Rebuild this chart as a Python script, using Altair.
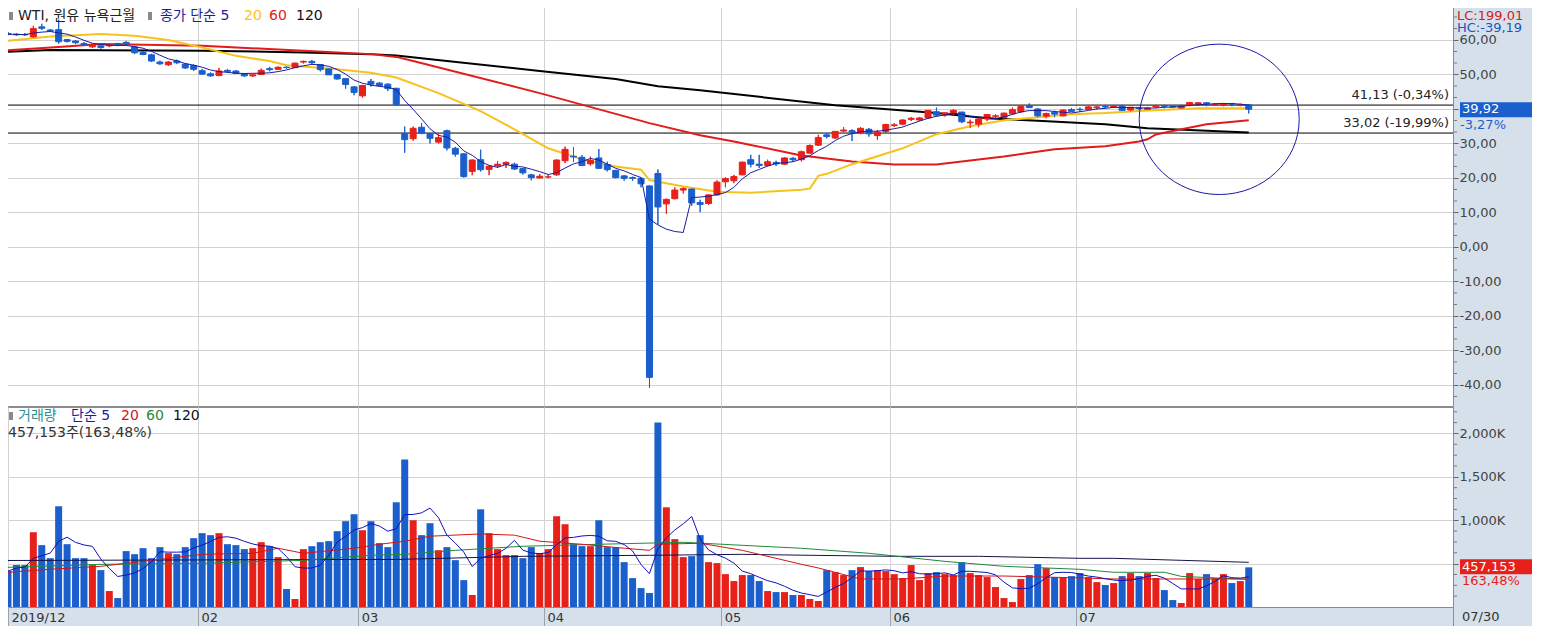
import altair as alt
import pandas as pd

# ---------------- data ----------------
opens = [61.9, 61.7, 61.6, 60.9, 63.8, 62.9, 63.0, 60.1, 59.7, 59.0,
         58.0, 58.3, 58.3, 59.0, 59.3, 58.0, 56.4, 55.7, 53.6, 52.8,
         53.9, 53.0, 52.6, 51.1, 50.2, 49.7, 51.2, 51.0, 50.2, 49.6,
         50.0, 51.7, 51.5, 52.1, 52.0, 53.6, 53.8, 52.9, 51.6, 50.0,
         48.8, 46.4, 43.8, 48.0, 47.5, 47.2, 46.0, 32.9, 31.4, 34.7,
         32.9, 30.4, 33.7, 28.6, 27.0, 21.9, 25.3, 22.5, 23.5, 24.0,
         24.0, 22.7, 20.9, 20.0, 20.3, 20.9, 25.0, 26.3, 26.0, 24.1,
         25.8, 23.9, 22.2, 20.6, 20.1, 19.9, 17.7, 21.3, 12.5, 14.0,
         16.5, 16.8, 12.9, 12.6, 15.1, 18.9, 19.2, 20.9, 25.3, 24.0,
         23.6, 24.5, 24.0, 25.7, 25.3, 27.2, 29.5, 32.5, 31.6, 33.6,
         33.7, 33.0, 34.1, 32.3, 33.5, 35.2, 35.6, 37.0, 36.8, 37.4,
         39.2, 38.2, 38.6, 39.1, 36.0, 35.6, 37.1, 37.9, 37.5, 38.6,
         39.2, 40.9, 40.0, 37.9, 39.0, 38.0, 39.8, 39.9, 39.9, 40.4,
         40.7, 40.5, 40.8, 39.7, 40.3, 39.9, 40.6, 41.0, 40.8, 40.3,
         41.1, 41.3, 41.8, 41.2, 41.1, 41.6, 41.0, 41.2]
highs = [62.3, 62.0, 62.0, 64.1, 64.7, 63.2, 65.9, 60.3, 60.0, 59.4,
         58.8, 58.5, 58.8, 59.1, 59.7, 58.3, 56.7, 56.0, 54.0, 53.9,
         54.3, 53.3, 52.9, 51.6, 50.6, 51.9, 51.6, 51.3, 50.4, 50.1,
         51.7, 52.2, 52.3, 52.3, 53.4, 54.0, 54.2, 53.0, 51.8, 50.2,
         48.9, 46.6, 47.0, 48.7, 47.8, 47.4, 46.1, 34.9, 34.9, 35.9,
         33.0, 32.7, 34.0, 29.0, 27.2, 25.4, 28.2, 23.6, 24.9, 24.8,
         24.4, 22.9, 21.2, 21.1, 21.0, 25.4, 29.1, 28.9, 26.6, 26.2,
         28.4, 24.7, 22.3, 20.8, 20.4, 20.1, 17.8, 22.5, 14.0, 17.3,
         17.3, 16.9, 13.7, 15.2, 19.3, 20.2, 20.9, 24.7, 26.7, 26.7,
         25.3, 25.0, 26.0, 26.0, 27.9, 29.7, 32.5, 33.0, 33.6, 34.7,
         34.1, 34.7, 34.5, 33.9, 35.7, 35.9, 37.0, 37.6, 37.6, 39.6,
         40.4, 38.9, 39.9, 39.2, 36.9, 37.3, 38.5, 38.5, 38.9, 40.4,
         40.9, 41.6, 40.2, 38.9, 39.5, 39.8, 40.3, 40.4, 40.8, 40.8,
         41.0, 41.1, 41.2, 40.6, 40.6, 40.6, 41.2, 41.2, 41.0, 41.2,
         42.0, 41.9, 42.0, 41.6, 41.7, 41.7, 41.5, 41.3]
lows = [61.4, 61.2, 61.2, 60.7, 62.9, 62.4, 58.9, 59.3, 58.8, 58.3,
        57.7, 57.5, 57.9, 58.2, 58.3, 55.9, 55.6, 53.6, 52.8, 52.5,
        53.0, 51.6, 51.0, 49.9, 49.3, 49.5, 50.4, 50.2, 49.3, 49.3,
        49.9, 50.9, 51.3, 51.7, 51.9, 53.2, 52.9, 50.9, 49.9, 48.5,
        45.9, 44.0, 43.3, 46.5, 46.6, 45.2, 41.1, 27.3, 30.8, 32.7,
        30.0, 30.0, 28.0, 26.2, 20.1, 20.8, 21.9, 20.8, 22.9, 22.9,
        22.3, 21.0, 19.3, 19.9, 19.9, 20.6, 24.3, 24.7, 23.5, 23.6,
        22.6, 21.9, 19.9, 19.2, 19.2, 17.3, -40.8, 6.5, 9.6, 13.8,
        15.5, 11.9, 10.1, 12.2, 14.9, 17.3, 18.5, 20.8, 23.1, 22.9,
        23.4, 23.5, 23.8, 24.7, 24.8, 27.0, 29.3, 31.5, 31.3, 33.3,
        30.7, 32.7, 32.0, 31.1, 33.2, 34.8, 35.3, 36.5, 36.5, 37.2,
        37.8, 37.8, 38.3, 35.9, 34.5, 34.7, 36.5, 37.3, 37.0, 38.4,
        38.8, 40.4, 37.6, 37.3, 37.6, 37.9, 39.2, 39.2, 39.8, 39.9,
        40.2, 40.3, 39.6, 39.3, 39.8, 39.7, 40.4, 40.2, 40.4, 40.1,
        40.8, 41.0, 40.8, 40.9, 40.8, 40.8, 40.8, 38.7]
closes = [61.7, 61.5, 61.5, 63.3, 63.4, 62.6, 59.5, 59.6, 59.2, 58.6,
          58.4, 57.8, 58.5, 58.7, 58.8, 56.3, 55.8, 53.9, 53.1, 53.6,
          53.4, 51.9, 51.5, 50.1, 49.6, 51.0, 50.9, 50.3, 49.6, 49.9,
          51.2, 51.4, 52.1, 52.0, 53.3, 53.8, 53.4, 51.4, 49.9, 48.7,
          47.1, 44.8, 46.8, 47.2, 46.8, 45.9, 41.3, 31.1, 34.4, 33.0,
          31.5, 31.7, 28.7, 26.9, 20.4, 25.2, 22.4, 23.4, 24.0, 24.5,
          22.6, 21.5, 20.1, 20.5, 20.3, 25.2, 28.3, 26.1, 23.6, 25.1,
          22.8, 22.4, 20.1, 19.9, 19.9, 18.3, -37.8, 11.6, 13.8, 16.5,
          16.9, 12.8, 12.3, 15.1, 18.8, 19.8, 20.4, 24.6, 24.0, 23.6,
          24.7, 24.1, 25.8, 25.3, 27.6, 29.4, 31.7, 32.0, 33.5, 33.9,
          33.3, 34.4, 32.8, 33.3, 35.5, 35.4, 36.8, 37.3, 37.4, 39.6,
          38.2, 38.9, 39.6, 36.3, 36.2, 37.1, 38.4, 38.0, 38.8, 39.8,
          40.7, 40.4, 38.0, 38.7, 38.5, 39.7, 39.3, 39.8, 40.6, 40.6,
          40.6, 40.8, 39.6, 40.5, 40.1, 40.3, 40.9, 40.8, 40.6, 41.0,
          41.9, 41.8, 41.5, 41.4, 41.5, 41.4, 41.3, 39.92]
volumes = [414, 483, 483, 862, 713, 563, 1161, 724, 563, 563,
           483, 425, 184, 103, 644, 609, 678, 563, 690, 621,
           609, 690, 793, 851, 828, 851, 724, 713, 667, 678,
           747, 701, 575, 207, 92, 667, 701, 747, 759, 874,
           989, 1069, 885, 989, 736, 690, 1207, 1701, 1000, 828,
           966, 655, 690, 540, 310, 138, 1126, 851, 667, 598,
           598, 563, 690, 621, 667, 1046, 954, 724, 701, 701,
           1000, 690, 690, 517, 333, 218, 161, 2126, 1149, 782,
           575, 586, 828, 517, 506, 379, 299, 368, 368, 299,
           184, 172, 172, 138, 138, 92, 69, 425, 402, 368,
           425, 460, 414, 425, 414, 379, 333, 483, 310, 391,
           402, 379, 368, 517, 391, 368, 345, 230, 103, 57,
           322, 368, 494, 448, 345, 345, 356, 391, 345, 287,
           253, 276, 356, 391, 356, 391, 333, 195, 80, 46,
           391, 322, 379, 333, 379, 276, 299, 457]

# moving averages (bar index, value)
ma20_i = [0, 5, 11, 15, 19, 23, 27, 31, 33, 39, 43, 46, 51, 56, 60, 64, 68, 72, 75, 76,
          80, 84, 88, 94, 95, 96, 97, 100, 106, 110, 114, 118, 126, 130, 134, 141, 147]
ma20_v = [59.8, 61.0, 61.7, 61.2, 60.0, 57.8, 55.4, 53.9, 52.7, 51.5, 50.5, 49.1, 44.6, 39.4,
          34.1, 28.6, 25.4, 23.3, 22.4, 19.4, 17.5, 16.0, 15.7, 16.6, 16.9, 20.6, 21.2, 24.0,
          28.6, 32.7, 35.0, 36.7, 38.5, 38.8, 39.4, 40.2, 40.2]
ma60_i = [0, 6, 11, 23, 35, 43, 46, 48, 63, 76, 82, 86, 94, 100, 105, 110, 118, 124, 130,
          134, 135, 136, 138, 142, 147]
ma60_v = [57.0, 58.0, 58.8, 58.3, 56.9, 55.9, 55.1, 53.9, 44.6, 35.9, 32.4, 30.6, 26.5, 24.8,
          23.9, 23.9, 26.2, 28.3, 29.2, 30.6, 31.2, 32.6, 33.6, 35.6, 36.7]
ma120_i = [0, 5, 23, 35, 43, 46, 52, 63, 72, 77, 82, 98, 110, 116, 122, 130, 135, 147]
ma120_v = [56.6, 57.1, 56.9, 56.4, 55.9, 55.5, 53.9, 51.0, 48.7, 46.6, 45.4, 41.1, 38.8, 37.3,
           36.6, 35.6, 34.4, 33.2]

vma20_i = [0, 5, 11, 17, 23, 29, 32, 35, 41, 44, 47, 50, 56, 60, 63, 68, 73, 76, 77, 82, 87,
           89, 94, 96, 101, 106, 111, 118, 127, 131, 147]
vma20_v = [400, 435, 469, 538, 607, 619, 677, 619, 677, 723, 758, 816, 842, 828, 758, 723, 677,
           653, 723, 735, 653, 607, 492, 450, 323, 323, 357, 357, 335, 323, 323]
vma60_i = [0, 11, 23, 35, 43, 47, 53, 61, 70, 80, 87, 94, 102, 111, 118, 127, 131, 137, 139, 147]
vma60_v = [457, 492, 503, 538, 596, 607, 653, 700, 723, 746, 711, 677, 619, 526, 469, 434, 400,
           400, 353, 318]
vma120_i = [0, 41, 46, 61, 76, 87, 95, 105, 115, 127, 131, 139, 147]
vma120_v = [536, 548, 548, 584, 596, 607, 596, 584, 584, 561, 561, 538, 515]

levels = [41.13, 33.02]
level_labels = ["41,13 (-0,34%)", "33,02 (-19,99%)"]
month_pos = [0, 22.5, 41.5, 63.5, 84.5, 104.5, 126.5]
month_labels = ["2019/12", "02", "03", "04", "05", "06", "07"]
price_ticks = [-40, -30, -20, -10, 0, 10, 20, 30, 40, 50, 60]
price_minor = [-43.33, -36.67, -33.33, -26.67, -23.33, -16.67, -13.33, -6.67, -3.33, 3.33,
               6.67, 13.33, 16.67, 23.33, 26.67, 33.33, 36.67, 43.33, 46.67, 53.33, 56.67,
               63.33, 66.67]
vol_ticks = [500, 1000, 1500, 2000]
vol_minor = [125, 250, 375, 625, 750, 875, 1125, 1250, 1375, 1625, 1750, 1875, 2125, 2250]

RED = "#e8201a"
BLUE = "#1a5fcc"
GOLD = "#f7c21a"
NAVY = "#1c1c9c"
STRIP = "#d6e0ea"
FONT = "DejaVu Sans, Noto Sans CJK KR"

df = pd.DataFrame({"i": list(range(len(closes))), "open": opens, "high": highs,
                   "low": lows, "close": closes, "vol": volumes})

xs = alt.Scale(domain=[-0.83, 171.2], nice=False, zero=False, padding=0)
ys = alt.Scale(domain=[-46.1, 71.3], nice=False, zero=False, padding=0)
vs = alt.Scale(domain=[0, 2305], nice=False, zero=False, padding=0)

color_cond = alt.condition("datum.close >= datum.open", alt.value(RED), alt.value(BLUE))

x_top_axis = alt.Axis(values=month_pos[1:], grid=True, labels=False, ticks=False, domain=False,
                      title=None, gridColor="#d2d2d2")
price_label = "(datum.value < 0 ? '-' : '') + replace(format(abs(datum.value), '.2f'), '.', ',')"
y_top_axis = alt.Axis(orient="right", values=price_ticks, grid=True, gridColor="#d2d2d2",
                      labelExpr=price_label, title=None, domain=False, tickSize=5,
                      tickColor="#666", labelPadding=1, labelFont=FONT, labelFontSize=13,
                      labelColor="#444")

base = alt.Chart(df)

wick = base.mark_rule(strokeWidth=1).encode(
    x=alt.X("i:Q", scale=xs, axis=x_top_axis),
    y=alt.Y("low:Q", scale=ys, axis=y_top_axis),
    y2="high:Q",
    color=color_cond,
)
body = base.mark_bar(size=6, strokeWidth=1).encode(
    x=alt.X("i:Q", scale=xs),
    y=alt.Y("open:Q", scale=ys),
    y2="close:Q",
    color=color_cond,
    stroke=color_cond,
)
ma5 = base.transform_window(
    ma="mean(close)", frame=[-4, 0], sort=[alt.SortField("i")]
).mark_line(color=NAVY, strokeWidth=1).encode(
    x=alt.X("i:Q", scale=xs), y=alt.Y("ma:Q", scale=ys))


def ma_line(idx, vals, color, width, scale):
    d = pd.DataFrame({"i": idx, "v": vals})
    return alt.Chart(d).mark_line(color=color, strokeWidth=width).encode(
        x=alt.X("i:Q", scale=xs), y=alt.Y("v:Q", scale=scale))


def minor_ticks(vals, scale):
    d = pd.DataFrame({"v": vals})
    return alt.Chart(d).mark_rule(color="#777", strokeWidth=1).encode(
        x=alt.value(1453), x2=alt.value(1456), y=alt.Y("v:Q", scale=scale))


ma120 = ma_line(ma120_i, ma120_v, "black", 2, ys)
ma60 = ma_line(ma60_i, ma60_v, "#e31b1b", 2, ys)
ma20 = ma_line(ma20_i, ma20_v, GOLD, 2, ys)

lv = pd.DataFrame({"y": levels, "t": level_labels})
level_rule = alt.Chart(lv).mark_rule(color="black", strokeWidth=1).encode(
    y=alt.Y("y:Q", scale=ys))
level_text = alt.Chart(lv).mark_text(align="right", baseline="bottom", dy=-3, font=FONT,
                                     fontSize=13, color="#222").encode(
    x=alt.value(1448), y=alt.Y("y:Q", scale=ys), text="t:N")

ellipse = alt.Chart(pd.DataFrame({"i": [143.5], "v": [37.0]})).mark_point(
    shape="M -1 0 A 1 0.94 0 1 0 1 0 A 1 0.94 0 1 0 -1 0 Z", size=25600,
    filled=False, stroke="#1a1aa8", strokeWidth=1, opacity=1).encode(
    x=alt.X("i:Q", scale=xs), y=alt.Y("v:Q", scale=ys))

last = pd.DataFrame({"v": [closes[-1]], "t": ["39,92"], "p": ["-3,27%"]})
tag_box = alt.Chart(last).mark_rect(color=BLUE, yOffset=-7, y2Offset=8).encode(
    x=alt.value(1459), x2=alt.value(1531), y=alt.Y("v:Q", scale=ys), y2="v:Q")
tag_text = alt.Chart(last).mark_text(align="left", baseline="middle", font=FONT, fontSize=13,
                                     color="white").encode(
    x=alt.value(1461), y=alt.Y("v:Q", scale=ys), text="t:N")
tag_pct = alt.Chart(last).mark_text(align="left", baseline="middle", dy=16, font=FONT,
                                    fontSize=13, color=BLUE).encode(
    x=alt.value(1459), y=alt.Y("v:Q", scale=ys), text="p:N")


def ptext(t, x, y, color, size=13, align="left"):
    return alt.Chart(pd.DataFrame({"t": [t]})).mark_text(
        align=align, baseline="middle", font=FONT, fontSize=size, color=color).encode(
        x=alt.value(x), y=alt.value(y), text="t:N")


def sq(x, y):
    return alt.Chart(pd.DataFrame({"a": [0]})).mark_rect(color="#8a8a8a").encode(
        x=alt.value(x), x2=alt.value(x + 4), y=alt.value(y - 4), y2=alt.value(y + 4))


top_texts = [
    sq(8, 15), ptext("WTI, 원유 뉴욕근월", 17, 15, "#222", 14),
    sq(147, 15), ptext("종가 단순 5", 159, 15, NAVY, 14),
    ptext("20", 243, 15, GOLD, 14), ptext("60", 268, 15, "#e31b1b", 14),
    ptext("120", 295, 15, "#111", 14),
    ptext("LC:199,01", 1456, 15, "#d42020"), ptext("HC:-39,19", 1456, 27, "#2055c0"),
]

top = alt.layer(
    wick, level_rule, ma120, ma60, ma20, body, wick.encode(), ma5, level_text, ellipse,
    minor_ticks(price_minor, ys), tag_box, tag_text, tag_pct, *top_texts
).properties(width=1452, height=405)

# ---------------- volume panel ----------------
month_map = ",".join("'%s':'%s'" % (str(p), l) for p, l in zip(month_pos, month_labels))
x_bot_axis = alt.Axis(values=month_pos, grid=True, gridColor="#d2d2d2", labels=True,
                      labelExpr="{" + month_map + "}[toString(datum.value)]",
                      ticks=True, tickSize=20, tickColor="#9aa4b0", domain=False, title=None,
                      labelAlign="left", labelBaseline="middle", labelPadding=-10,
                      labelOffset=3, labelFont=FONT, labelFontSize=13, labelColor="#333",
                      labelFlush=False, labelOverlap=False)
y_bot_axis = alt.Axis(orient="right", values=vol_ticks, grid=True, gridColor="#d2d2d2",
                      labelExpr="datum.value == 500 ? '' : format(datum.value, ',') + 'K'",
                      title=None, domain=False, tickSize=5, tickColor="#666", labelPadding=1,
                      labelFont=FONT, labelFontSize=13, labelColor="#444")

vbars = base.mark_bar(size=7).encode(
    x=alt.X("i:Q", scale=xs, axis=x_bot_axis),
    y=alt.Y("vol:Q", scale=vs, axis=y_bot_axis),
    color=color_cond,
)
vma5 = base.transform_window(
    m="mean(vol)", frame=[-4, 0], sort=[alt.SortField("i")]
).mark_line(color="#1010c0", strokeWidth=1).encode(
    x=alt.X("i:Q", scale=xs), y=alt.Y("m:Q", scale=vs))
vma20 = ma_line(vma20_i, vma20_v, "#d01818", 1, vs)
vma60 = ma_line(vma60_i, vma60_v, "#1f8a3a", 1, vs)
vma120 = ma_line(vma120_i, vma120_v, "#14144a", 1, vs)

vlast = pd.DataFrame({"v": [volumes[-1]], "t": ["457,153"], "p": ["163,48%"]})
vtag_box = alt.Chart(vlast).mark_rect(color=RED, yOffset=-8, y2Offset=7).encode(
    x=alt.value(1459), x2=alt.value(1531), y=alt.Y("v:Q", scale=vs), y2="v:Q")
vtag_text = alt.Chart(vlast).mark_text(align="left", baseline="middle", font=FONT, fontSize=13,
                                       color="white").encode(
    x=alt.value(1461), y=alt.Y("v:Q", scale=vs), text="t:N")
vtag_pct = alt.Chart(vlast).mark_text(align="left", baseline="middle", dy=14, font=FONT,
                                      fontSize=13, color=RED).encode(
    x=alt.value(1461), y=alt.Y("v:Q", scale=vs), text="p:N")

vsep = alt.Chart(pd.DataFrame({"a": [0]})).mark_rule(color="#8c8c8c").encode(
    x=alt.value(1452.5), y=alt.value(0), y2=alt.value(220))
bot_texts = [
    sq(8, 9), ptext("거래량", 17, 9, "#2f8f8f", 14), ptext("단순 5", 70, 9, NAVY, 14),
    ptext("20", 120, 9, "#d01818", 14), ptext("60", 145, 9, "#1f8a3a", 14),
    ptext("120", 172, 9, "#111", 14),
    ptext("457,153주(163,48%)", 7, 26, "#333", 14),
    ptext("07/30", 1461, 210, "#333"),
]

bottom = alt.layer(
    vbars, vma120, vma60, vma20, vma5, vsep, minor_ticks(vol_minor, vs),
    vtag_box, vtag_text, vtag_pct, *bot_texts
).properties(width=1452, height=200)

chart = alt.vconcat(top, bottom, spacing=-1).properties(
    background=STRIP,
    padding={"left": -8, "top": -8, "right": -1, "bottom": 0},
).configure_view(fill="white", stroke="#8c8c8c", strokeWidth=1)

chart.save("out.html", embed_options={"renderer": "svg", "actions": False})
